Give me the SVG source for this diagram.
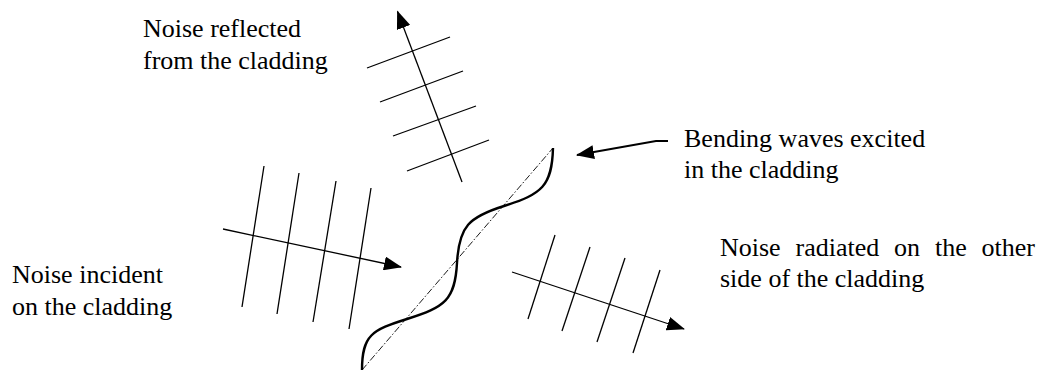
<svg xmlns="http://www.w3.org/2000/svg" width="1045" height="370" viewBox="0 0 1045 370">
<defs>
<marker id="ah" markerUnits="userSpaceOnUse" markerWidth="18" markerHeight="14" refX="17" refY="7" orient="auto" viewBox="0 0 18 14">
<path d="M0,0 L18,7 L0,14 z" fill="#000"/>
</marker>
</defs>
<rect width="1045" height="370" fill="#fff"/>
<g id="reflected" stroke="#000" stroke-width="1.3" fill="none">
<line x1="462" y1="182" x2="397.5" y2="11.5" marker-end="url(#ah)"/>
<line x1="367" y1="68" x2="450" y2="37"/>
<line x1="380" y1="102" x2="463" y2="71"/>
<line x1="393" y1="136" x2="476" y2="106"/>
<line x1="407" y1="171" x2="489" y2="140"/>
</g>
<g id="incident" stroke="#000" stroke-width="1.3" fill="none">
<line x1="223" y1="229" x2="401" y2="267" marker-end="url(#ah)"/>
<line x1="264" y1="166" x2="242" y2="307"/>
<line x1="299" y1="173" x2="277" y2="314"/>
<line x1="336" y1="181" x2="313" y2="322"/>
<line x1="371" y1="188" x2="349" y2="329"/>
</g>
<g id="radiated" stroke="#000" stroke-width="1.3" fill="none">
<line x1="512" y1="272" x2="684" y2="329" marker-end="url(#ah)"/>
<line x1="555" y1="235" x2="528" y2="319"/>
<line x1="590" y1="247" x2="562" y2="331"/>
<line x1="625" y1="258" x2="597" y2="342"/>
<line x1="660" y1="270" x2="633" y2="353"/>
</g>
<g id="cladding">
<line x1="362" y1="370" x2="553" y2="148" stroke="#000" stroke-width="0.9" stroke-dasharray="7,2,1.5,2"/>
<path d="M362,370 C362,335 372,330 407,319 C445,307 455,300 457,263 C459,226 469,217 504,206 C542,194 552,186 553,148" stroke="#000" stroke-width="2.4" fill="none"/>
</g>
<g id="connectors">
<polyline points="668,141 656,141 577,155" stroke="#000" stroke-width="2" fill="none" marker-end="url(#ah)"/>
</g>
<g id="labels" font-size="26">
<text x="143" y="37" font-family="serif">Noise reflected</text>
<text x="143" y="69" font-family="serif">from the cladding</text>
<text x="684" y="147" font-family="serif">Bending waves excited</text>
<text x="684" y="178" font-family="serif">in the cladding</text>
<text y="256" font-family="serif"><tspan x="720">Noise</tspan><tspan x="795.5">radiated</tspan><tspan x="894">on</tspan><tspan x="935">the</tspan><tspan x="981.5">other</tspan></text>
<text x="720" y="287" font-family="serif">side of the cladding</text>
<text x="12" y="283" font-family="serif">Noise incident</text>
<text x="12" y="315" font-family="serif">on the cladding</text>
</g>
</svg>
